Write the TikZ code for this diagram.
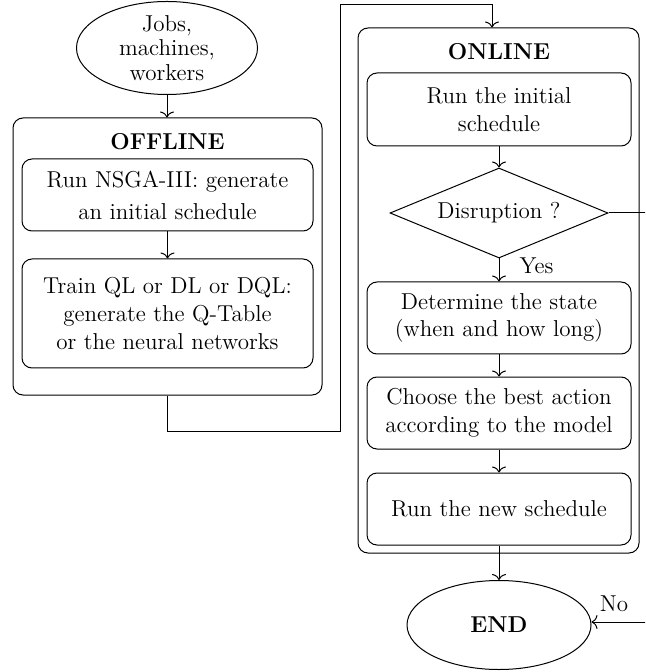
\documentclass[tikz,border=0pt]{standalone}
\usetikzlibrary{shapes.geometric,arrows.meta}
\begin{document}
\begin{tikzpicture}[x=0.5pt,y=-0.5pt,line width=0.5pt,
  >={To[length=3pt,width=7pt]},
  every node/.style={font=\fontsize{11.5}{13.8}\selectfont,align=center,inner sep=0pt},
  procbox/.style={draw,rounded corners=5pt,minimum width=#1},
  groupbox/.style={draw,rounded corners=5pt},
  terminal/.style={draw,ellipse},
  decision/.style={draw,diamond,aspect=2.42}]
\useasboundingbox (0,0) rectangle (645,672);
\clip (0,0) rectangle (645,672);
% offline group
\node[groupbox,minimum width=154.5pt,minimum height=138.5pt] (offline) at (167.5,256.5) {};
\node (offtitle) at (167.5,142) {\textbf{OFFLINE}};
\node[terminal,minimum width=90.5pt,minimum height=46.5pt,font=\fontsize{11.5}{12.2}\selectfont] (jobs) at (167,48) {Jobs,\\machines,\\workers};
\node[procbox=145.5pt,minimum height=36pt,font=\fontsize{11.5}{16}\selectfont] (b1) at (167.5,195) {Run NSGA-III: generate\\an initial schedule};
\node[procbox=145.5pt,minimum height=54.5pt] (b2) at (167.5,313.5) {Train QL or DL or DQL:\\generate the Q-Table\\or the neural networks};
% online group
\node[groupbox,minimum width=140.5pt,minimum height=262.5pt] (online) at (498.5,290.5) {};
\node (ontitle) at (499,52) {\textbf{ONLINE}};
\node[procbox=132pt,minimum height=36.5pt] (bA) at (499,109.5) {Run the initial\\schedule};
\node[decision,minimum width=109pt,minimum height=45pt] (dis) at (499,213) {Disruption ?};
\node[procbox=132pt,minimum height=36pt] (bB) at (499,318) {Determine the state\\(when and how long)};
\node[procbox=132pt,minimum height=36pt] (bC) at (499,413) {Choose the best action\\according to the model};
\node[procbox=132pt,minimum height=36pt] (bD) at (499,509) {Run the new schedule};
\node[terminal,minimum width=92pt,minimum height=44.5pt] (end) at (499,625) {\textbf{END}};
\node[anchor=west] (yes) at (519,266) {Yes};
\node (no) at (614,604) {No};
% connectors
\draw[->] (jobs.south) -- (jobs.south |- offline.north);
\draw[->] (b1.south) -- (b1.south |- b2.north);
\coordinate (k1) at (340,431);
\coordinate (k2) at (340,5);
\coordinate (k3) at (492,5);
\draw[->] (offline.south) |- (k1) -- (k2) -- (k3) -- (k3 |- online.north);
\draw[->] (bA.south) -- (dis.north);
\draw[->] (dis.south) -- (bB.north);
\draw[->] (bB.south) -- (bC.north);
\draw[->] (bC.south) -- (bD.north);
\draw[->] (bD.south) -- (end.north);
\coordinate (n1) at (665,213);
\coordinate (n2) at (665,622);
\draw[->] (dis.east) -- (n1) -- (n2) -- (end.east |- n2);
\end{tikzpicture}
\end{document}
